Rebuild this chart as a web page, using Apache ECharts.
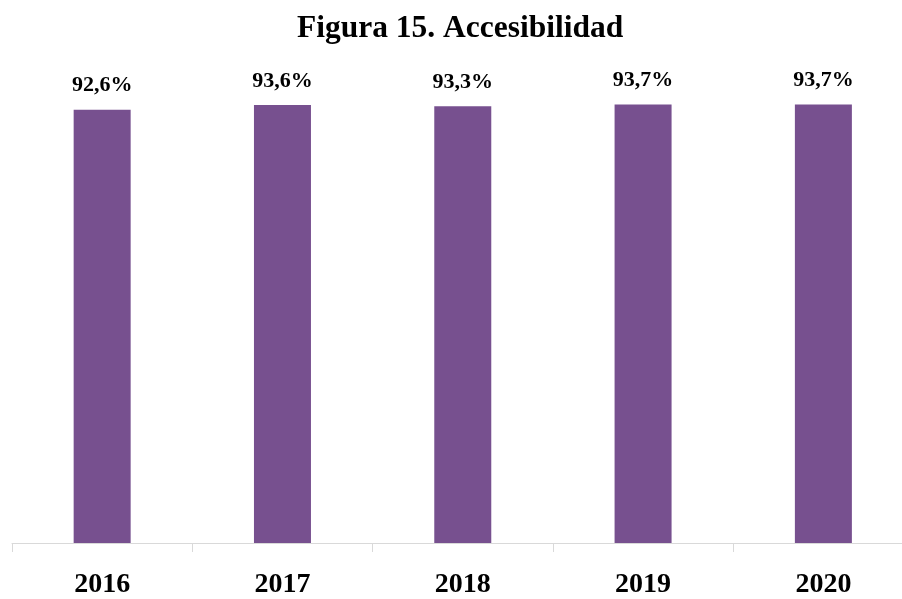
<!DOCTYPE html>
<html><head><meta charset="utf-8">
<script src="https://cdn.jsdelivr.net/npm/echarts@6/dist/echarts.min.js"></script>
<style>html,body{margin:0;padding:0;background:#fff;overflow:hidden}#c{width:902px;height:599px}</style>
</head><body><div id="c"></div>
<script>
var title = 'Figura 15. Accesibilidad';
var categories = ['2016', '2017', '2018', '2019', '2020'];
var values = [92.6, 93.6, 93.3, 93.7, 93.7];
var labels = ['92,6%', '93,6%', '93,3%', '93,7%', '93,7%'];

// each category occupies one unit on the x scale; the visible part of the axis
// ends a little before the end of the last category (as in the reference)
var visibleSpan = 4.936;
var boundaries = categories.map(function (c, i) { return i; });
var centers = categories.map(function (c, i) { return i + 0.5; });
var barData = values.map(function (v, i) { return [centers[i], v]; });

var chart = echarts.init(document.getElementById('c'));
chart.setOption({
  backgroundColor: '#fff',
  animation: false,
  title: {
    text: title, left: 297, top: 13, padding: 0,
    textStyle: {fontFamily: 'Liberation Serif', fontWeight: 'bold', fontSize: 31.5, color: '#000'}
  },
  grid: {left: 12, right: 0, top: 75, bottom: 49, containLabel: false},
  xAxis: {
    type: 'value', min: 0, max: visibleSpan,
    splitLine: {show: false},
    axisLine: {show: true, lineStyle: {color: '#d9d9d9', width: 1}},
    axisTick: {show: true, length: 9, customValues: boundaries, lineStyle: {color: '#d9d9d9'}},
    axisLabel: {
      show: true, customValues: centers,
      formatter: function (v) { return categories[Math.floor(v)]; },
      fontFamily: 'Liberation Serif', fontWeight: 'bold', fontSize: 28, color: '#000', margin: 28
    }
  },
  yAxis: {type: 'value', min: 0, max: 100, show: false, splitLine: {show: false}},
  series: [{
    type: 'bar', data: barData, barWidth: 57,
    itemStyle: {color: '#77508F'},
    label: {
      show: true, position: 'top', distance: 13,
      formatter: function (p) { return labels[p.dataIndex]; },
      fontFamily: 'Liberation Serif', fontWeight: 'bold', fontSize: 22, color: '#000'
    }
  }]
});
</script></body></html>
